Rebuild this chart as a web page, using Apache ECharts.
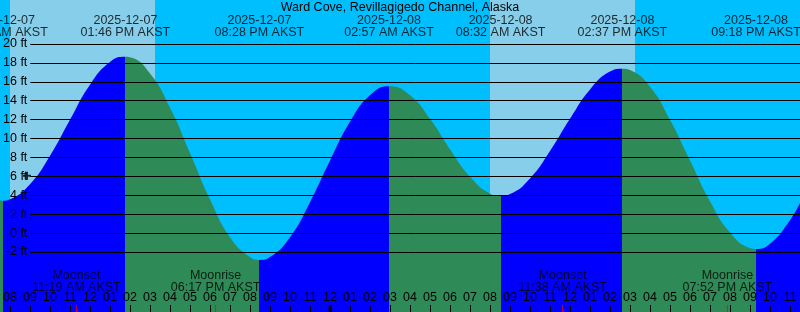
<!DOCTYPE html>
<html>
<head>
<meta charset="utf-8">
<script src="https://cdn.jsdelivr.net/npm/echarts@6/dist/echarts.min.js"></script>
<style>
html, body { margin: 0; padding: 0; background: #00bfff; }
#tide { width: 800px; height: 312px; }
</style>
</head>
<body>
<div id="tide"></div>
<script>
// hours are counted from 00:00 AKST on 2025-12-07
const tideHours = [7.5, 7.65, 8, 9, 10, 11, 12, 13, 13.77, 14, 15, 16, 17, 18, 19, 20, 20.47,
  21, 22, 23, 24, 25, 26, 26.95, 28, 29, 30, 31, 32, 32.53, 33, 34, 35, 36, 37, 38, 38.62,
  39, 40, 41, 42, 43, 44, 45, 45.3, 46, 47, 47.5]
const tideFeet = [3.5, 3.45, 3.6, 5.2, 8.2, 12.0, 15.7, 18.1, 18.65, 18.6, 16.9, 13.3, 8.5, 3.6, -0.4, -2.5, -2.8,
  -2.5, -0.4, 3.3, 7.7, 11.8, 14.6, 15.55, 14.6, 12.1, 8.9, 6.0, 4.2, 3.95, 4.15, 5.8, 8.7, 12.1, 15.2, 17.1, 17.4,
  17.25, 15.5, 12.0, 7.7, 3.4, 0.1, -1.55, -1.65, -1.1, 1.4, 3.2]

const extremeHours = [7.65, 13.77, 20.47, 26.95, 32.53, 38.62, 45.3]
const extremeDates = ['2025-12-07', '2025-12-07', '2025-12-07', '2025-12-08', '2025-12-08', '2025-12-08', '2025-12-08']
const extremeClock = ['07:39 AM AKST', '01:46 PM AKST', '08:28 PM AKST', '02:57 AM AKST', '08:32 AM AKST', '02:37 PM AKST', '09:18 PM AKST']

const sunriseHours = [8.0, 32.0]
const sunsetHours = [15.25, 39.25]

const moonHours = [11.32, 18.28, 35.63, 43.87]
const moonNames = ['Moonset', 'Moonrise', 'Moonset', 'Moonrise']
const moonClock = ['11:19 AM AKST', '06:17 PM AKST', '11:38 AM AKST', '07:52 PM AKST']

const midnightHours = [24]
const nowMark = [[8.85, 6.1]]

const FONT = 'Liberation Sans'
const BLUE = '#0000ff'
const GREEN = '#2e8b57'
const DAY = '#87ceeb'
const NIGHT = '#00bfff'
const Y_MIN = -8.3
const Y_MAX = 24.65
const X_MIN = 7.5
const X_MAX = 47.5

function feetAt(h) {
  return tideFeet[tideHours.indexOf(h)]
}

// rising water blue, falling water green
const bounds = [X_MIN].concat(extremeHours, [X_MAX])
const pieces = []
for (let i = 0; i < bounds.length - 1; i++) {
  const rising = feetAt(bounds[i + 1]) > feetAt(bounds[i])
  const p = { gte: bounds[i], color: rising ? BLUE : GREEN }
  if (i === bounds.length - 2) p.lte = bounds[i + 1]
  else p.lt = bounds[i + 1]
  pieces.push(p)
}

function hourLabel(v) {
  let h = Math.round(v) % 12
  if (h === 0) h = 12
  return String(h).padStart(2, '0')
}

let myChart = echarts.init(document.getElementById('tide'))
myChart.setOption({
  animation: false,
  backgroundColor: NIGHT,
  textStyle: { fontFamily: FONT, color: '#000' },
  title: {
    text: 'Ward Cove, Revillagigedo Channel, Alaska',
    left: 'center',
    top: 1,
    padding: 0,
    textStyle: { fontFamily: FONT, fontSize: 12.5, fontWeight: 'normal', color: '#000', lineHeight: 13 }
  },
  visualMap: {
    type: 'piecewise',
    show: false,
    dimension: 0,
    seriesIndex: 1,
    pieces: pieces
  },
  grid: [
    { left: 0, right: 0, top: 0, bottom: 0 },
    { left: 29, right: 0, top: 44, bottom: 60 },
    { left: 10, right: 10, top: 0, bottom: 0 }
  ],
  xAxis: [
    { type: 'value', gridIndex: 0, min: X_MIN, max: X_MAX, show: false },
    { type: 'value', gridIndex: 1, min: 0, max: 1, show: false },
    {
      type: 'value', gridIndex: 2, min: 8, max: 47, interval: 1, z: 10,
      axisLine: { show: false },
      splitLine: { show: false },
      axisTick: { show: true, inside: true, length: 7, lineStyle: { color: '#000', width: 1 } },
      axisLabel: {
        inside: true, margin: 8, fontSize: 12.5, lineHeight: 12, color: '#000', fontFamily: FONT,
        showMinLabel: true, showMaxLabel: true, formatter: hourLabel
      }
    }
  ],
  yAxis: [
    { type: 'value', gridIndex: 0, min: Y_MIN, max: Y_MAX, show: false },
    {
      type: 'value', gridIndex: 1, min: -2, max: 20, interval: 2, z: 10,
      axisLine: { show: false },
      axisTick: { show: false },
      splitLine: { show: true, lineStyle: { color: '#000', width: 1 } },
      axisLabel: { margin: 3, fontSize: 12.5, color: '#000', fontFamily: FONT, formatter: '{value} ft' }
    },
    { type: 'value', gridIndex: 2, min: 0, max: 1, show: false }
  ],
  series: [
    {
      // daylight band
      type: 'line',
      xAxisIndex: 0,
      yAxisIndex: 0,
      z: 1,
      symbol: 'none',
      lineStyle: { width: 0 },
      data: [[X_MIN, Y_MIN]],
      markArea: {
        silent: true,
        itemStyle: { color: DAY, opacity: 1 },
        data: sunriseHours.map((s, i) => [{ xAxis: s }, { xAxis: sunsetHours[i] }])
      }
    },
    {
      type: 'line',
      xAxisIndex: 0,
      yAxisIndex: 0,
      z: 2,
      smooth: 0.5,
      symbol: 'none',
      lineStyle: { width: 0 },
      areaStyle: { opacity: 1, origin: 'start' },
      data: tideHours.map((h, i) => [h, tideFeet[i]])
    },
    {
      // midnight and moon ticks
      type: 'scatter',
      xAxisIndex: 0,
      yAxisIndex: 0,
      z: 12,
      symbol: 'rect',
      symbolOffset: [0, -3.5],
      silent: true,
      data: midnightHours.map(h => ({ value: [h, Y_MIN], symbolSize: [3, 7], itemStyle: { color: '#000' } }))
        .concat(moonHours.map(h => ({ value: [h, Y_MIN], symbolSize: [1, 7], itemStyle: { color: '#ff0000' } })))
    },
    {
      type: 'scatter',
      xAxisIndex: 0,
      yAxisIndex: 0,
      z: 12,
      symbolSize: 0,
      silent: true,
      label: {
        show: true, position: 'top', distance: 18, fontSize: 12.5, lineHeight: 12, color: '#000', fontFamily: FONT,
        formatter: p => moonNames[p.dataIndex] + '\n' + moonClock[p.dataIndex]
      },
      data: moonHours.map(h => [h, Y_MIN])
    },
    {
      type: 'scatter',
      xAxisIndex: 0,
      yAxisIndex: 0,
      z: 12,
      symbolSize: 0,
      silent: true,
      label: {
        show: true, position: 'bottom', distance: 15, fontSize: 12.5, lineHeight: 12, color: '#000', fontFamily: FONT,
        formatter: p => extremeDates[p.dataIndex] + '\n' + extremeClock[p.dataIndex]
      },
      data: extremeHours.map(h => [h, Y_MAX])
    },
    {
      type: 'scatter',
      xAxisIndex: 0,
      yAxisIndex: 0,
      z: 12,
      silent: true,
      symbol: 'path://M3,0h2v3h3v2h-3v3h-2v-3h-3v-2h3z',
      symbolSize: 8,
      itemStyle: { color: '#000' },
      data: nowMark
    }
  ]
})
</script>
</body>
</html>
